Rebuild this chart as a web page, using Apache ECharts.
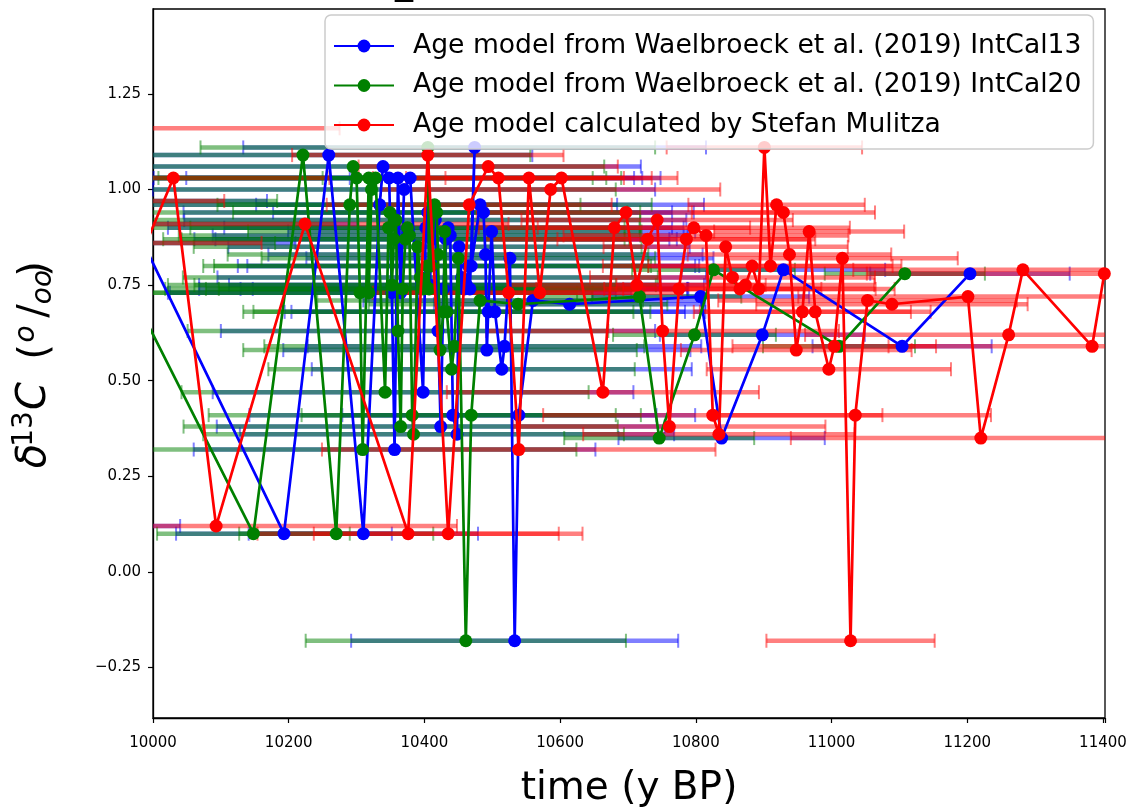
<!DOCTYPE html>
<html>
<head>
<meta charset="utf-8">
<script src="https://cdn.jsdelivr.net/npm/echarts@6/dist/echarts.min.js"></script>
<style>
  html, body { margin: 0; padding: 0; background: #fff; }
  #chart { width: 1137px; height: 807px; }
</style>
</head>
<body>
<div id="chart"></div>
<script>
// δ13C of each sample, in depth order (shared by all three age models)
const d13C = [1.16, 0.97, 0.86, 1.03, 0.12, 0.91, 0.10, 1.09, 0.10, 0.96, 1.06, 1.03, 0.73, 0.32, 1.03, 0.73, 1.00, 1.03, 0.47, 0.90,
  0.94, 0.75, 0.87, 0.92, 0.63, 0.38, 0.74, 0.87, 0.90, 0.88, 0.41, 0.36, 0.85, 0.77, 0.74, 0.75, 0.80, 0.74, 1.11, 0.80,
  0.96, 0.94, 0.83, 0.58, 0.68, 0.89, 0.68, 0.53, 0.59, 0.82, -0.18, 0.41, 0.71, 0.70, 0.72, 0.35, 0.62, 0.79, 0.59, 0.78];

// Ages (y BP) — Waelbroeck et al. (2019), IntCal13
const ageIntCal13 = [9760, 9790, 9830, 9870, 9900, 9972, 10193, 10259, 10310, 10334, 10339, 10348, 10352, 10356, 10361, 10365, 10370, 10379, 10398, 10402,
  10405, 10408, 10411, 10416, 10420, 10424, 10428, 10432, 10435, 10438, 10442, 10448, 10451, 10455, 10459, 10462, 10465, 10467, 10474, 10469,
  10482, 10487, 10490, 10492, 10494, 10499, 10504, 10514, 10518, 10526, 10533, 10539, 10560, 10614, 10807, 10838, 10898, 10929, 11104, 11204];
const errIntCal13 = [200, 378, 380, 420, 140, 330, 159, 300, 169, 350, 380, 400, 330, 296, 360, 340, 370, 330, 310, 380,
  360, 340, 350, 370, 320, 330, 360, 340, 330, 350, 300, 320, 340, 360, 330, 350, 340, 320, 341, 330,
  330, 310, 320, 300, 290, 300, 310, 280, 290, 300, 241, 260, 250, 200, 160, 152, 151, 150, 132, 147];

// Ages (y BP) — Waelbroeck et al. (2019), IntCal20
const ageIntCal20 = [9700, 9740, 9780, 9820, 9850, 9918, 10148, 10221, 10270, 10290, 10295, 10300, 10305, 10309, 10318, 10318, 10322, 10328, 10342, 10347,
  10349, 10352, 10355, 10358, 10361, 10365, 10368, 10372, 10375, 10378, 10382, 10384, 10390, 10394, 10398, 10401, 10404, 10407, 10405, 10410,
  10415, 10418, 10420, 10423, 10428, 10430, 10433, 10440, 10444, 10450, 10461, 10469, 10482, 10538, 10717, 10746, 10798, 10826, 11011, 11108];
const errIntCal20 = [200, 443, 400, 430, 120, 350, 142, 335, 143, 340, 370, 390, 320, 315, 350, 330, 360, 320, 300, 370,
  350, 330, 340, 360, 310, 320, 350, 330, 320, 340, 300, 310, 330, 350, 320, 340, 330, 310, 335, 320,
  320, 300, 310, 290, 280, 290, 300, 270, 280, 290, 236, 250, 240, 220, 150, 140, 120, 120, 112, 118];

// Ages (y BP) — age model by Stefan Mulitza
const ageMulitza = [9900, 9930, 9990, 10030, 10093, 10224, 10376, 10405, 10435, 10466, 10494, 10509, 10524, 10539, 10554, 10570, 10586, 10602, 10663, 10680,
  10697, 10713, 10729, 10743, 10751, 10761, 10775, 10786, 10797, 10815, 10825, 10834, 10844, 10854, 10865, 10873, 10883, 10893, 10901, 10910,
  10919, 10929, 10938, 10948, 10957, 10967, 10976, 10996, 11004, 11016, 11028, 11035, 11053, 11089, 11201, 11220, 11261, 11282, 11384, 11402];
const errMulitza = [375, 175, 170, 230, 355, 300, 222, 200, 198, 210, 191, 185, 200, 290, 181, 210, 250, 171, 230, 200,
  220, 190, 240, 200, 260, 230, 210, 190, 230, 210, 250, 200, 180, 210, 200, 190, 220, 200, 144, 180,
  130, 135, 150, 170, 160, 140, 170, 180, 150, 170, 124, 200, 220, 200, 250, 280, 300, 250, 300, 350];

const xTicks = [10000, 10200, 10400, 10600, 10800, 11000, 11200, 11400];
const yTicks = [-0.25, 0, 0.25, 0.5, 0.75, 1.0, 1.25];

const seriesNames = [
  'Age model from Waelbroeck et al. (2019) IntCal13',
  'Age model from Waelbroeck et al. (2019) IntCal20',
  'Age model calculated by Stefan Mulitza'
];
const seriesColors = ['#0000ff', '#008000', '#ff0000'];
const barColors = ['rgba(0,0,255,0.5)', 'rgba(0,128,0,0.5)', 'rgba(255,0,0,0.5)'];

const FONT = 'DejaVu Sans';

function points(ages) { return ages.map((a, i) => [a, d13C[i]]); }
function withErr(ages, errs) { return ages.map((a, i) => [a, d13C[i], errs[i]]); }

// horizontal error bar with caps, clipped to the plotting area
function errorBarRenderer(color) {
  return function (params, api) {
    const x = api.value(0), y = api.value(1), e = api.value(2);
    const p1 = api.coord([x - e, y]);
    const p2 = api.coord([x + e, y]);
    const cs = params.coordSys;
    const left = cs.x, right = cs.x + cs.width;
    const children = [];
    const x1 = Math.max(p1[0], left), x2 = Math.min(p2[0], right);
    if (x2 > x1) {
      children.push({ type: 'line', shape: { x1: x1, y1: p1[1], x2: x2, y2: p1[1] },
        style: { stroke: color, lineWidth: 4.5, lineCap: 'butt' } });
    }
    [p1[0], p2[0]].forEach(function (cx) {
      if (cx >= left && cx <= right) {
        children.push({ type: 'line', shape: { x1: cx, y1: p1[1] - 7, x2: cx, y2: p1[1] + 7 },
          style: { stroke: color, lineWidth: 2 } });
      }
    });
    return { type: 'group', children: children };
  };
}

const ageSets = [[ageIntCal13, errIntCal13], [ageIntCal20, errIntCal20], [ageMulitza, errMulitza]];

const series = [];
ageSets.forEach(function (set, k) {
  series.push({
    name: seriesNames[k] + ' error',
    type: 'custom',
    renderItem: errorBarRenderer(barColors[k]),
    data: withErr(set[0], set[1]),
    encode: { x: 0, y: 1 },
    silent: true,
    z: 1 + k * 0.01,
    animation: false
  });
});
ageSets.forEach(function (set, k) {
  series.push({
    name: seriesNames[k],
    type: 'line',
    data: points(set[0]),
    symbol: 'circle',
    symbolSize: 13,
    showSymbol: true,
    showAllSymbol: true,
    clip: true,
    lineStyle: { color: seriesColors[k], width: 2.7 },
    itemStyle: { color: seriesColors[k] },
    emphasis: { disabled: true },
    z: 3 + k,
    animation: false
  });
});

const chart = echarts.init(document.getElementById('chart'), null, { renderer: 'canvas' });

// y-axis title pieces: δ^13 C (^o/_oo), rotated
const yTitle = [
  { t: 'δ', size: 40, italic: true, cx: 35, cy: 456 },
  { t: '13', size: 28, italic: false, cx: 25, cy: 429 },
  { t: 'C', size: 40, italic: true, cx: 35, cy: 396 },
  { t: '(', size: 40, italic: false, cx: 37, cy: 352 },
  { t: 'o', size: 28, italic: true, cx: 27, cy: 334 },
  { t: '/', size: 40, italic: false, cx: 36, cy: 311 },
  { t: 'oo', size: 28, italic: true, cx: 44, cy: 287 },
  { t: ')', size: 40, italic: false, cx: 37, cy: 269 }
];

chart.setOption({
  backgroundColor: '#ffffff',
  textStyle: { fontFamily: FONT },
  grid: { left: 153, right: 32, top: 9, bottom: 89, containLabel: false, outerBoundsMode: 'none',
    show: true, borderColor: '#000', borderWidth: 1.3, backgroundColor: 'transparent' },
  xAxis: {
    type: 'value', min: 10000, max: 11403, interval: 200,
    name: 'time (y BP)', nameLocation: 'middle', nameGap: 51,
    nameTextStyle: { fontSize: 39, color: '#000', fontFamily: FONT },
    axisLine: { show: true, onZero: false, lineStyle: { color: '#000', width: 1.3 } },
    axisTick: { show: true, length: 5, lineStyle: { color: '#000', width: 1.2 } },
    axisLabel: { fontSize: 15, color: '#000', margin: 18, fontFamily: FONT,
      customValues: xTicks, formatter: function (v) { return String(v); } },
    splitLine: { show: false }
  },
  yAxis: {
    type: 'value', min: -0.382, max: 1.472,
    axisLine: { show: true, onZero: false, lineStyle: { color: '#000', width: 1.3 } },
    axisTick: { show: true, length: 5, lineStyle: { color: '#000', width: 1.2 }, customValues: yTicks },
    axisLabel: { fontSize: 15, color: '#000', margin: 12, fontFamily: FONT, customValues: yTicks,
      formatter: function (v) { return (v < 0 ? '\u2212' : '') + Math.abs(v).toFixed(2); } },
    splitLine: { show: false }
  },
  legend: {
    data: seriesNames,
    orient: 'vertical',
    left: 325, top: 15,
    padding: [16, 12, 9, 8],
    itemGap: 9.5,
    itemWidth: 60, itemHeight: 16,
    backgroundColor: 'rgba(255,255,255,0.8)',
    borderColor: '#cccccc', borderWidth: 1.5, borderRadius: 6,
    textStyle: { fontSize: 26.6, color: '#000', fontFamily: FONT, lineHeight: 30, padding: [0, 0, 0, 14] },
    selectedMode: false,
    z: 10
  },
  graphic: [
    { type: 'text', x: 395, y: 3, z: 20,
      style: { text: '_', fontSize: 36, fontFamily: FONT, fill: '#000', verticalAlign: 'bottom', align: 'left' } }
  ].concat(yTitle.map(function (p) {
    return { type: 'text', x: p.cx, y: p.cy, rotation: Math.PI / 2, z: 20,
      style: { text: p.t, fontSize: p.size, fontStyle: p.italic ? 'italic' : 'normal', fontFamily: FONT,
        fill: '#000', align: 'center', verticalAlign: 'middle' } };
  })),
  series: series
});
</script>
</body>
</html>
